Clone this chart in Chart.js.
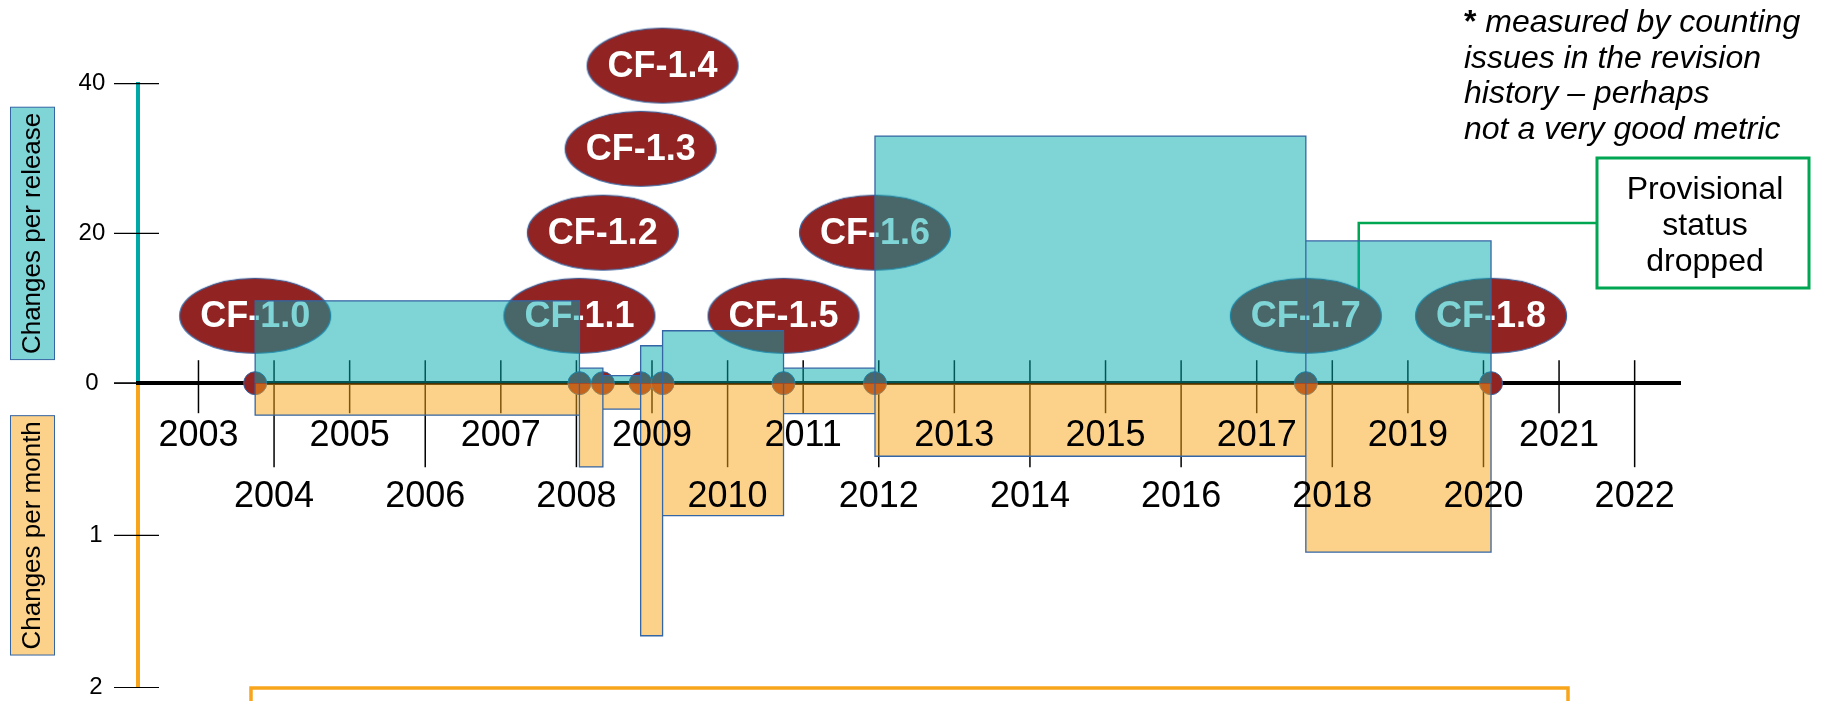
<!doctype html>
<html>
<head>
<meta charset="utf-8">
<title>CF conventions releases</title>
<script src="https://cdn.jsdelivr.net/npm/chart.js@4.4.1/dist/chart.umd.min.js"></script>
<style>
	body { margin: 0; background: #fff; }
</style>
</head>
<body>
<canvas id="canvas" width="1821" height="701"></canvas>
<script>
// releases and their dates (decimal years)
var releases = ['CF-1.0', 'CF-1.1', 'CF-1.2', 'CF-1.3', 'CF-1.4', 'CF-1.5', 'CF-1.6', 'CF-1.7', 'CF-1.8'];
var releaseDates = [2003.75, 2008.04, 2008.35, 2008.85, 2009.14, 2010.74, 2011.95, 2017.65, 2020.10];
// one value for each interval between two releases
var changesPerRelease = [11, 2, 1, 5, 7, 2, 33, 19];
var changesPerMonth = [0.21, 0.55, 0.17, 1.66, 0.87, 0.20, 0.48, 1.11];
// height (in changes per release) at which each release badge sits
var badgeRows = [9, 9, 20.1, 31.3, 42.4, 9, 20.1, 9, 9];
var years = [2003, 2004, 2005, 2006, 2007, 2008, 2009, 2010, 2011, 2012,
	2013, 2014, 2015, 2016, 2017, 2018, 2019, 2020, 2021, 2022];
var releaseTicks = [0, 20, 40];
var monthTicks = [0, 1, 2];

var teal = '#00a8a8';
var orange = '#f8a51b';
var tealFill = 'rgba(0,169,173,0.5)';
var orangeFill = 'rgba(249,165,21,0.5)';
var edge = '#3465a4';
var red = '#922323';
var font = '"Liberation Sans", Arial, sans-serif';

Chart.defaults.font.family = font;
Chart.defaults.color = '#000';

// rectangles from one release to the next, as a closed step outline
var outline = function(values){
	var pts = [];
	for (var i = 0; i < values.length; i++) {
		var a = releaseDates[i], b = releaseDates[i + 1];
		pts.push({x: a, y: 0}, {x: a, y: values[i]}, {x: b, y: values[i]}, {x: b, y: 0});
	}
	return pts;
};

var badge = (function(){
	var c = document.createElement('canvas');
	c.width = 154; c.height = 78;
	var g = c.getContext('2d');
	g.beginPath();
	g.ellipse(77, 39, 75.5, 37.5, 0, 0, Math.PI * 2);
	g.fillStyle = red; g.fill();
	g.strokeStyle = edge; g.lineWidth = 1.2; g.stroke();
	return c;
})();

var setTicks = function(list){
	return function(scale){ scale.ticks = list.map(function(v){ return {value: v}; }); };
};

var line = function(ctx, x1, y1, x2, y2){
	ctx.beginPath(); ctx.moveTo(x1, y1); ctx.lineTo(x2, y2); ctx.stroke();
};

var decorations = {
	id: 'decorations',
	beforeDraw: function(chart){
		var ctx = chart.ctx;
		[['y', tealFill], ['y2', orangeFill]].forEach(function(p){
			var s = chart.scales[p[0]];
			ctx.save();
			ctx.font = '26px ' + font;
			var h = ctx.measureText(s.options.title.text).width + 11;
			var cy = (s.top + s.bottom) / 2;
			ctx.fillStyle = p[1];
			ctx.fillRect(10, cy - h / 2, 45, h);
			ctx.strokeStyle = edge; ctx.lineWidth = 1;
			ctx.strokeRect(10.5, cy - h / 2, 44, h);
			ctx.restore();
		});
	},
	beforeDatasetsDraw: function(chart){
		var ctx = chart.ctx, area = chart.chartArea;
		var xs = chart.scales.x, y0 = chart.scales.y.getPixelForValue(0);
		ctx.save();
		ctx.strokeStyle = '#000';
		ctx.lineWidth = 1.5;
		years.forEach(function(yr){
			var px = xs.getPixelForValue(yr);
			line(ctx, px, y0 - 23, px, y0 + (yr % 2 ? 30 : 84));
		});
		ctx.lineWidth = 1.2;
		['y', 'y2'].forEach(function(id){
			var s = chart.scales[id];
			s.ticks.forEach(function(t){
				var py = s.getPixelForValue(t.value);
				line(ctx, area.left - 24, py, area.left + 21, py);
			});
		});
		// connector of the "Provisional status dropped" note
		ctx.strokeStyle = '#00a651';
		ctx.lineWidth = 2.5;
		var cx = xs.getPixelForValue(2018.35);
		ctx.beginPath();
		ctx.moveTo(1597, 223); ctx.lineTo(cx, 223); ctx.lineTo(cx, 292);
		ctx.stroke();
		ctx.restore();
	},
	afterDatasetDraw: function(chart, args){
		if (args.index !== 3) return;
		var ctx = chart.ctx;
		ctx.save();
		ctx.font = 'bold 36px ' + font;
		ctx.fillStyle = '#fff';
		ctx.textAlign = 'center';
		ctx.textBaseline = 'middle';
		args.meta.data.forEach(function(pt, i){
			ctx.fillText(releases[i], pt.x, pt.y + 1);
		});
		ctx.restore();
	},
	afterDraw: function(chart){
		var ctx = chart.ctx;
		ctx.save();
		ctx.fillStyle = '#000';
		ctx.textBaseline = 'alphabetic';
		ctx.font = 'bold 32px ' + font;
		ctx.fillText('*', 1464, 32);
		var sw = ctx.measureText('* ').width;
		ctx.font = 'italic 32px ' + font;
		ctx.fillText('measured by counting', 1464 + sw, 32);
		ctx.fillText('issues in the revision', 1464, 67.5);
		ctx.fillText('history \u2013 perhaps', 1464, 103);
		ctx.fillText('not a very good metric', 1464, 138.5);

		ctx.strokeStyle = '#00a651';
		ctx.lineWidth = 3;
		ctx.fillStyle = '#fff';
		ctx.fillRect(1597, 158, 212, 130);
		ctx.strokeRect(1597, 158, 212, 130);
		ctx.fillStyle = '#000';
		ctx.font = '32px ' + font;
		ctx.textAlign = 'center';
		ctx.fillText('Provisional', 1705, 199);
		ctx.fillText('status', 1705, 235);
		ctx.fillText('dropped', 1705, 270.5);

		// frame of the next panel, cut by the bottom edge
		ctx.strokeStyle = orange;
		ctx.lineWidth = 3.5;
		ctx.beginPath();
		ctx.moveTo(251, 710); ctx.lineTo(251, 688); ctx.lineTo(1568, 688); ctx.lineTo(1568, 710);
		ctx.stroke();
		ctx.restore();
	}
};

// invisible tick marks: they only set the gap between the labels and the axis line
var hiddenTicks = function(len){
	return {display: true, drawOnChartArea: false, drawTicks: true, tickLength: len, tickColor: 'rgba(0,0,0,0)'};
};

window.onload = function(){
	var ctx = document.getElementById('canvas').getContext('2d');
	window.myChart = new Chart(ctx, {
		type: 'line',
		data: {
			datasets: [
				{
					data: outline(changesPerRelease),
					yAxisID: 'y',
					fill: 'origin',
					backgroundColor: tealFill,
					borderColor: edge,
					borderWidth: 1.3,
					pointRadius: 0,
					tension: 0,
					order: 0
				},
				{
					data: outline(changesPerMonth),
					yAxisID: 'y2',
					fill: 'origin',
					backgroundColor: orangeFill,
					borderColor: edge,
					borderWidth: 1.3,
					pointRadius: 0,
					tension: 0,
					order: 1
				},
				{
					data: releaseDates.map(function(d){ return {x: d, y: 0}; }),
					yAxisID: 'y',
					showLine: false,
					pointRadius: 11.5,
					pointBackgroundColor: red,
					pointBorderColor: edge,
					pointBorderWidth: 1,
					clip: false,
					order: 2
				},
				{
					data: releaseDates.map(function(d, i){ return {x: d, y: badgeRows[i]}; }),
					yAxisID: 'y',
					showLine: false,
					pointStyle: badge,
					pointRadius: 60,
					clip: false,
					order: 3
				}
			]
		},
		options: {
			responsive: false,
			animation: false,
			events: [],
			devicePixelRatio: 1,
			layout: {autoPadding: false, padding: {left: 0, top: 83.6, right: 141, bottom: 13.5}},
			plugins: {legend: {display: false}, tooltip: {enabled: false}},
			scales: {
				y: {
					type: 'linear', position: 'left', stack: 'v', stackWeight: 299.4, weight: 1,
					min: 0, max: 40,
					afterBuildTicks: setTicks(releaseTicks),
					afterFit: function(s){ s.width = 138; },
					grid: hiddenTicks(32.7),
					border: {display: true, color: teal, width: 4},
					ticks: {padding: 0, crossAlign: 'center', font: {size: 24, lineHeight: 1}},
					title: {display: true, text: 'Changes per release', font: {size: 26}, padding: {top: 17, bottom: 0}}
				},
				y2: {
					type: 'linear', position: 'left', stack: 'v', stackWeight: 304.1, weight: 0,
					min: 0, max: 2, reverse: true,
					afterBuildTicks: setTicks(monthTicks),
					afterFit: function(s){ s.width = 138; },
					grid: hiddenTicks(35.3),
					border: {display: true, color: orange, width: 4},
					ticks: {padding: 0, crossAlign: 'center', font: {size: 24, lineHeight: 1},
						callback: function(v){ return v === 0 ? '' : String(v); }},
					title: {display: true, text: 'Changes per month', font: {size: 26}, padding: {top: 17, bottom: 0}}
				},
				x: {
					type: 'linear', position: {y: 0}, min: 2002.2, max: 2022.6,
					afterBuildTicks: setTicks(years),
					grid: {display: false, drawTicks: false, tickLength: 0},
					border: {display: true, color: '#000', width: 4},
					ticks: {display: false}
				},
				xLabels: {
					type: 'linear', position: {y: 0}, min: 2002.2, max: 2022.6,
					afterBuildTicks: setTicks(years),
					grid: {display: false, drawTicks: false, tickLength: 0},
					border: {display: false},
					ticks: {z: 1, autoSkip: false, minRotation: 0, maxRotation: 0, padding: 22.7,
						font: {size: 36, lineHeight: 1.694},
						callback: function(v){ return v % 2 ? String(v) : ['', String(v)]; }}
				}
			}
		},
		plugins: [decorations]
	});
};
</script>
</body>
</html>
